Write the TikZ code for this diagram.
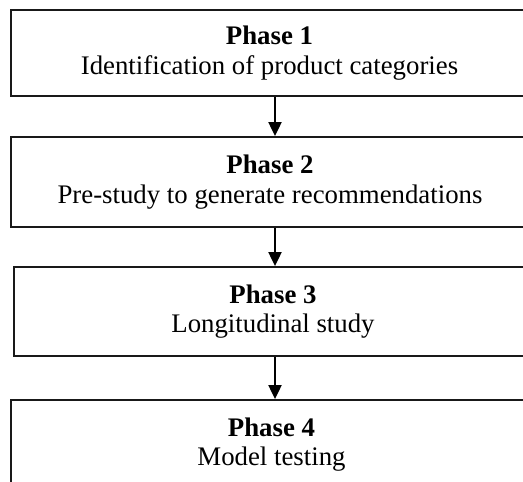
\documentclass[tikz,border=0pt]{standalone}
\usepackage{fontspec}
\setmainfont{Liberation Serif}
\usetikzlibrary{arrows.meta}
\begin{document}
\begin{tikzpicture}[x=1pt,y=-1pt,
  phasebox/.style={draw=black!90, line width=1.8pt, rectangle, align=center,
    font=\fontsize{26.8}{29.5}\selectfont, inner sep=0pt},
  flowarrow/.style={draw=black, line width=2pt, -{Triangle[length=14pt,width=13pt]}}]
\useasboundingbox (0,0) rectangle (523,482);
\clip (0,0) rectangle (523,482);
\node[phasebox, minimum width=517pt, minimum height=86pt] (p1) at (269.5,53)
  {\textbf{Phase 1}\\Identification of product categories};
\node[phasebox, minimum width=518pt, minimum height=90pt] (p2) at (270,182)
  {\textbf{Phase 2}\\Pre-study to generate recommendations};
\node[phasebox, minimum width=518pt, minimum height=89pt] (p3) at (273,311.5)
  {\textbf{Phase 3}\\Longitudinal study};
\node[phasebox, minimum width=521pt, minimum height=89pt] (p4) at (271.5,444.5)
  {\textbf{Phase 4}\\Model testing};
\coordinate (ax) at (275,0);
\draw[flowarrow] (p1.south -| ax) -- (p2.north -| ax);
\draw[flowarrow] (p2.south -| ax) -- (p3.north -| ax);
\draw[flowarrow] (p3.south -| ax) -- (p4.north -| ax);
\end{tikzpicture}
\end{document}
